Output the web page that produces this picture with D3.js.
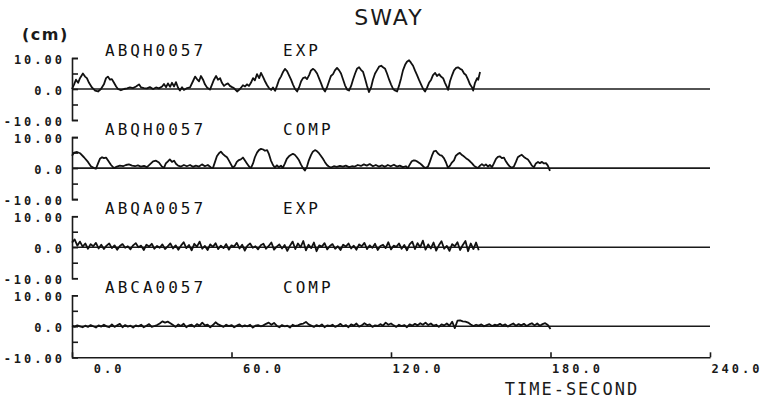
<!DOCTYPE html>
<html>
<head>
<meta charset="utf-8" />
<title>SWAY</title>
<style>
html, body {
    padding: 0px;
    margin: 0px;
    background: #fff;
}
svg { display: block; }
.ylab text, .xaxis text {
    font-family: "DejaVu Sans Mono", monospace;
    font-weight: bold;
    font-size: 12px;
    letter-spacing: 3px;
    fill: #1a1a1a;
}
.tag {
    font-family: "DejaVu Sans Mono", monospace;
    font-size: 16px;
    letter-spacing: 3px;
    fill: #111;
}
.domain, .tick line { stroke: #1a1a1a; stroke-width: 1.6; }
</style>
</head>
<body>
<svg id="chart" width="761" height="400"></svg>

<script src="https://cdnjs.cloudflare.com/ajax/libs/d3/7.8.5/d3.min.js"></script>
<script>
// sway records, [seconds, cm]
var swayExpH = [[0,0],[0.8,1.5],[1.5,3],[2.3,2],[3,3.5],[4.1,5],[4.9,4],[5.6,3.5],[6.4,2],[7.5,0.5],[8.7,-0.5],[9.8,-0.8],[10.9,0],[12,1.5],[12.8,3.5],[13.5,4],[14.3,3],[15,3.2],[15.8,2],[16.6,0.8],[17.3,0],[18.4,-0.4],[19.6,0],[20.7,0.2],[21.8,0.5],[22.9,0.3],[24.1,0.8],[25.2,1.5],[26,0.5],[27.1,0.3],[28.2,0.2],[29.3,0.6],[30.5,0],[31.6,0.5],[32.7,0.2],[33.9,0.8],[34.6,1.6],[35.4,0.6],[36.1,1.8],[36.9,0.7],[37.6,2],[38.4,0.8],[39.1,2.2],[39.9,0.4],[40.6,-0.5],[41.4,0.6],[42.1,-0.3],[43.3,0.3],[44.4,0.5],[45.5,2.5],[46.3,4],[47,3.2],[47.8,2.5],[48.5,4.2],[49.3,3],[50,1.5],[50.8,0.5],[51.9,-0.2],[52.7,1.5],[53.4,3],[54.2,4.2],[54.9,3],[55.7,3.5],[56.4,2],[57.2,1],[57.9,1.5],[58.7,1.8],[59.4,1],[60.2,0.6],[60.9,0.3],[62.1,-0.8],[63.2,0],[64.3,1.2],[65.1,0.8],[65.8,1.5],[66.6,1],[67.3,2],[68.1,3.5],[68.8,2.8],[69.6,4.8],[70.4,3.5],[71.1,5.2],[71.9,3.8],[72.6,2.5],[73.4,1.2],[74.1,0.3],[74.9,-0.3],[75.6,0.5],[76.4,-0.6],[77.1,1],[77.9,3],[78.6,4],[79.4,5.5],[80.1,6.5],[80.9,5.8],[81.6,4.5],[82.4,3],[83.1,1.5],[83.9,0],[84.7,-0.8],[85.4,0.5],[86.2,2.5],[86.9,3.5],[87.7,3.8],[88.4,3.2],[89.2,4.5],[89.9,6],[90.7,6.5],[91.4,6],[92.2,5],[92.9,3.5],[93.7,1.8],[94.4,0.2],[95.2,-0.8],[95.9,0.5],[96.7,2.5],[97.4,4.2],[98.2,4.8],[98.9,6],[99.7,6.8],[100.5,6],[101.2,5],[102,3],[102.7,1.2],[103.5,-0.2],[104.2,-0.5],[105,1],[105.7,3],[106.5,5],[107.2,6.5],[108,7],[108.7,6.2],[109.5,5.5],[110.2,3.5],[111,1],[111.7,-1],[112.5,0.5],[113.2,3],[114,5],[114.7,6],[115.5,7.2],[116.3,7.5],[117,7],[117.8,6.5],[118.5,5],[119.3,3],[120,1.5],[120.8,0],[121.5,-0.5],[122.3,-0.8],[123,1],[123.8,3.5],[124.5,6],[125.3,7.8],[126,8.8],[126.8,9.3],[127.5,8.5],[128.3,7.5],[129,6],[129.8,4.5],[130.5,3],[131.3,1.5],[132.1,0],[132.8,-0.8],[133.6,0.5],[134.3,2],[135.1,3],[135.8,4.5],[136.6,5.2],[137.3,4.2],[138.1,4.8],[138.8,4],[139.6,3.5],[140.3,2],[141.1,0.5],[141.5,-0.3],[142.2,2.5],[143,4.5],[143.7,6],[144.5,6.8],[145.2,7],[146,6.5],[146.7,6.2],[147.5,5],[148.2,4.5],[149,3],[149.7,1.5],[150.5,0.5],[150.9,-0.5],[151.6,2],[152.4,3.5],[152.8,3],[153.5,5.5]]

var swayCompH = [[0,4],[0.8,5],[1.9,5.2],[3,4.8],[4.5,3.5],[6,2],[7.1,0.6],[8.3,0],[9,-0.2],[9.8,1.5],[10.5,3],[11.3,3.5],[12,3.2],[12.8,3.4],[13.5,2.5],[14.7,1],[15.8,0],[16.9,0.5],[18,0.8],[19.2,0.6],[20.3,1],[21.4,1.2],[22.6,0.8],[23.7,0.6],[24.8,0.9],[25.9,0.5],[27.1,0.7],[28.2,0.3],[29.3,1.2],[30.5,2.2],[31.6,2.4],[32.7,1.8],[33.8,0.5],[34.6,0.1],[35.3,1.5],[36.1,2.2],[36.8,2.8],[37.6,2],[38.4,2.4],[39.1,1.4],[39.9,0.8],[41,0.5],[42.1,1],[43.2,0.6],[44.4,1],[45.5,0.4],[46.6,0.8],[47.8,0.5],[48.9,1.2],[50,0.6],[51.1,1],[52.3,0.2],[53,0],[53.8,2],[54.5,3.8],[55.3,4.8],[56,5.3],[56.8,4.5],[57.5,4],[58.3,3.5],[59,2.5],[59.8,1.2],[60.5,0.1],[61.3,0.8],[62,2],[62.8,2.6],[63.5,2.8],[64.3,3.4],[65,2.5],[65.8,1.5],[66.6,0.5],[67.3,0],[68.1,1.5],[68.8,3.5],[69.6,5],[70.3,5.8],[71.1,6.2],[71.9,6],[72.6,5.6],[73.4,5.8],[74.1,4.5],[74.8,2.5],[75.6,1],[76.3,0.2],[77.1,0.9],[77.8,0.3],[78.6,0.8],[79.3,0.1],[80.1,1.5],[80.8,3],[81.6,3.8],[82.3,4.2],[83.1,4.6],[83.8,4.3],[84.6,3.5],[85.4,2.5],[86.1,1.2],[86.9,0],[87.6,-0.8],[88.4,0.5],[89.1,2.5],[89.9,4.2],[90.6,5.3],[91.4,5.8],[92.1,5.5],[92.9,4.8],[93.6,4],[94.4,3],[95.1,2],[95.9,1],[96.6,0.5],[97.4,0.2],[98.5,0.6],[99.6,0.4],[100.8,0.7],[101.9,0.5],[103,0.8],[104.2,0.3],[105.3,0.6],[106.4,0.5],[107.5,1],[108.7,0.7],[109.8,1.2],[110.9,0.8],[112,1.3],[113.2,0.6],[114.3,1],[115.4,0.5],[116.6,0.9],[117.7,0.4],[118.8,1],[119.9,0.6],[121.1,1.1],[122.2,0.5],[123.3,0.8],[124.5,0.3],[125.6,0.6],[126.3,0],[127.1,1.2],[127.8,2.2],[128.6,2.5],[129.3,2.4],[130.1,2],[130.8,1.6],[131.6,1],[132.4,0.3],[133.1,0],[133.9,0.5],[134.6,2],[135.4,4],[136.1,5.4],[136.9,5.6],[137.6,4.8],[138.4,4.2],[139.1,4],[139.9,3.2],[140.7,1.8],[141.4,0.1],[142.2,0.8],[142.9,1.8],[143.7,2.5],[144.4,4],[145.2,4.6],[145.9,4.9],[146.7,4.2],[147.4,3.8],[148.2,3.2],[148.9,2.8],[149.7,2.2],[150.5,1.5],[151.2,0.8],[152,0.3],[152.7,0],[153.5,0.8],[154.2,1.3],[155,0.7],[155.7,1.2],[156.5,0.5],[157.2,1],[158,0.3],[158.7,1.5],[159.5,3],[160.2,3.6],[161,3.8],[161.7,3.2],[162.5,3.4],[163.2,2.2],[164,1.2],[164.7,0.5],[165.5,0.1],[166.2,0.5],[167,2],[167.7,3.5],[168.5,4],[169.2,4.3],[170,3.6],[170.7,3.2],[171.5,2.8],[172.3,1.8],[173,0.8],[173.8,0.3],[174.5,1.5],[175.3,2],[176,1.6],[176.8,2],[177.5,1.5],[178.3,1.6],[179,0.8],[179.8,-0.9]]

// these two are sampled once a second from t=0
var swayExpA = [1.5,2.5,0.5,1.8,0.2,1.2,-0.5,1.0,0.3,1.4,-0.4,
    0.8,-0.6,0.5,1.2,-0.3,0.6,-0.8,0.4,1.0,-0.2,0.3,-0.7,0.6,1.3,0.0,0.5,-0.9,0.8,0.2,1.1,-0.5,0.4,-0.2,0.9,-0.6,0.3,1.2,-0.4,0.6,-0.8,
    0.5,1.6,-0.3,0.7,-1.0,1.1,0.2,1.8,-0.5,0.4,-0.9,0.9,0.1,1.3,-0.6,0.5,-0.3,1.0,-0.8,0.6,0.2,1.4,-0.4,0.8,-1.1,0.5,1.2,-0.2,0.3,-0.7,
    0.6,1.1,-0.5,0.4,1.5,-0.8,0.2,0.9,-0.4,0.7,-1.2,0.5,1.8,-0.6,1.2,0.0,2.0,-1.0,0.8,-0.3,1.5,-1.3,0.6,0.2,1.3,-0.7,0.4,1.0,-0.5,0.3,
    -0.9,0.8,0.2,1.2,-0.4,0.5,-0.8,0.9,0.3,1.4,-0.6,0.6,-0.2,1.1,-0.9,0.4,0.8,-0.3,1.6,-0.7,0.5,0.1,1.2,-0.5,0.7,-1.0,0.9,1.8,-0.6,1.3,
    0.0,2.1,-0.8,0.9,-0.4,1.5,-1.1,0.6,1.9,-0.5,0.4,-1.2,1.0,0.3,1.6,-0.9,0.7,2.0,-1.3,1.2,-0.6,1.5,-1.0]

var swayCompA = [0.2,-0.1,0.3,0.0,-0.3,0.2,-0.2,0.4,0.0,-0.4,0.3,-0.1,0.5,0.0,-0.3,0.6,-0.2,0.3,0.8,-0.3,0.4,-0.1,0.2,-0.4,0.3,0.0,0.5,-0.3,0.2,0.7,-0.2,
    0.1,0.4,0.9,1.6,1.2,1.5,1.0,0.4,-0.2,0.6,0.1,0.8,-0.3,0.3,0.5,-0.2,0.7,0.2,1.2,0.3,0.5,-0.3,0.4,1.3,0.6,0.2,-0.2,0.5,0.1,0.4,
    -0.3,0.2,0.6,-0.1,0.3,0.0,0.5,-0.4,0.2,0.4,0.0,0.3,0.8,1.2,0.5,1.1,0.2,-0.3,0.4,0.0,0.2,-0.4,0.5,0.1,0.3,0.7,0.9,1.4,0.6,0.2,
    -0.2,0.4,0.0,0.6,-0.3,0.3,0.1,0.5,-0.2,0.2,0.8,0.0,0.4,-0.3,0.6,0.2,0.9,-0.1,0.3,1.0,0.4,0.6,-0.2,0.3,0.1,0.7,0.2,1.2,0.5,0.9,
    0.3,-0.2,0.5,0.1,0.4,-0.3,0.6,0.2,0.8,0.3,1.0,0.5,1.2,0.4,0.9,0.2,0.5,-0.2,0.6,0.3,0.9,0.2,1.5,-0.6,1.8,1.9,1.6,1.5,1.2,0.6,
    0.1,0.5,0.2,0.6,0.0,0.4,0.7,0.1,0.5,0.3,0.8,0.2,0.6,-0.1,0.5,0.9,0.2,0.7,0.3,0.8,0.1,0.6,1.0,0.3,0.9,0.2,0.7,1.0,0.4,-0.9]

var records = ["ABQH0057", "ABQH0057", "ABQA0057", "ABCA0057"]
var modes = ["EXP", "COMP", "EXP", "COMP"]
var yTicks = [-10, -5, 0, 5, 10]
var yTickLabels = ["-10.00", "", "0.0", "", "10.00"]
var xTicks = [0, 60, 120, 180, 240]
var xTickLabels = ["0.0", "60.0", "120.0", "180.0", "240.0"]

!(function(){
    "use strict"

    var svg = d3.select("#chart")
    var left = 72, right = 710
    var firstZero = 89, pitch = 79.1, half = 31

    var x = d3.scaleLinear().domain([0, 240]).range([left, right])

    function perSecond(vals) {
        return vals.map(function(v, i) { return [i, v] })
    }
    var series = [swayExpH, swayCompH, perSecond(swayExpA), perSecond(swayCompA)]

    // title + unit
    svg.append("text")
        .attr("x", 389).attr("y", 25)
        .attr("text-anchor", "middle")
        .style("font-family", "DejaVu Sans").style("font-size", "22px")
        .style("letter-spacing", "2px").style("fill", "#1a1a1a")
        .text("SWAY")
    svg.append("text")
        .attr("x", 22).attr("y", 40)
        .style("font-family", "DejaVu Sans").style("font-size", "16px")
        .style("font-weight", "bold")
        .style("letter-spacing", "1.5px").style("fill", "#1a1a1a")
        .text("(cm)")

    series.forEach(function(data, i) {
        var zero = firstZero + i * pitch
        var y = d3.scaleLinear().domain([-10, 10]).range([zero + half, zero - half])
        var g = svg.append("g")

        g.append("text").attr("class", "tag")
            .attr("x", 105).attr("y", zero - half - 2)
            .text(records[i])
        g.append("text").attr("class", "tag")
            .attr("x", 283).attr("y", zero - half - 2)
            .text(modes[i])

        var yAxis = d3.axisLeft(y)
            .tickValues(yTicks)
            .tickFormat(function(d) { return yTickLabels[yTicks.indexOf(d)] })
            .tickSizeInner(-6)
            .tickSizeOuter(-6)
            .tickPadding(7)
        g.append("g").attr("class", "ylab")
            .attr("transform", "translate(" + left + ",0)")
            .call(yAxis)
            .selectAll("text").attr("dy", "0.45em")

        // zero line
        g.append("line")
            .attr("x1", x(0)).attr("x2", x(240))
            .attr("y1", y(0)).attr("y2", y(0))
            .attr("stroke", "#1a1a1a").attr("stroke-width", 1.6)

        var line = d3.line()
            .x(function(d) { return x(d[0]) })
            .y(function(d) { return y(d[1]) })
        g.append("path")
            .datum(data)
            .attr("d", line)
            .attr("fill", "none")
            .attr("stroke", "#111")
            .attr("stroke-width", 1.8)
            .attr("stroke-linejoin", "round")
    })

    var bottom = firstZero + 3 * pitch + half
    var xAxis = d3.axisBottom(x)
        .tickValues(xTicks)
        .tickFormat(function(d) { return xTickLabels[xTicks.indexOf(d)] })
        .tickSizeInner(-5)
        .tickSizeOuter(0)
        .tickPadding(7)
    svg.append("g").attr("class", "xaxis")
        .attr("transform", "translate(0," + bottom + ")")
        .call(xAxis)
        .selectAll("text")
        .attr("text-anchor", "end")
        .attr("dx", 52)

    svg.append("text")
        .attr("x", 572).attr("y", 395)
        .attr("text-anchor", "middle")
        .style("font-family", "DejaVu Sans Mono").style("font-size", "17px")
        .style("letter-spacing", "2px").style("fill", "#1a1a1a")
        .text("TIME-SECOND")
}());
</script>
</body>
</html>
